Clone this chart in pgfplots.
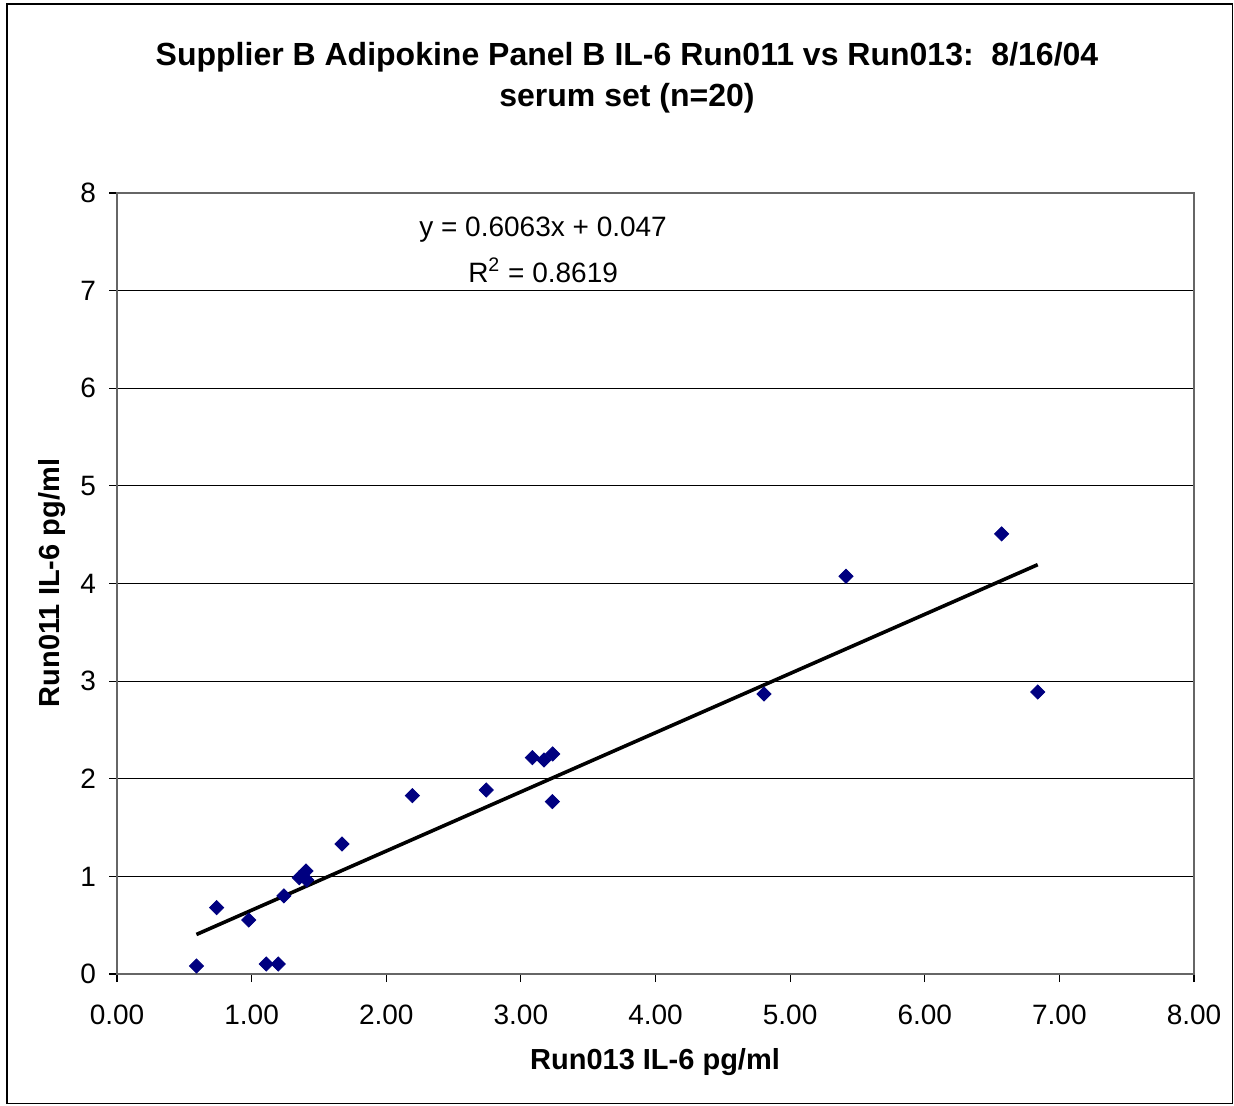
\documentclass[border=0pt]{standalone}
\usepackage{pgfplots}
\pgfplotsset{compat=1.18}
\usepackage{fontspec}
\setmainfont{Liberation Sans}
\definecolor{navy}{RGB}{0,0,128}
\begin{document}
\begin{tikzpicture}
\useasboundingbox (0,0) rectangle (617pt,552.5pt);
\draw[black, line width=0.6pt] (3.5pt,0.6pt) rectangle (616.4pt,550.5pt);
\begin{axis}[
  at={(58.5pt,65.5pt)}, anchor=south west,
  scale only axis, width=538.5pt, height=390.5pt,
  xmin=0, xmax=8, ymin=0, ymax=8,
  xtick={0,1,...,8}, ytick={0,1,...,8},
  xtick pos=bottom, ytick pos=left,
  ymajorgrids, grid style={black, line width=0.5pt},
  axis line style={draw=gray!80!black, line width=0.7pt},
  tick align=outside, major tick length=4pt,
  tick style={black, line width=0.6pt},
  /pgf/number format/assume math mode=true,
  ticklabel style={font=\fontsize{14}{16}\selectfont},
  xticklabel style={/pgf/number format/.cd, fixed, fixed zerofill, precision=2, /tikz/.cd, yshift=-8pt},
  yticklabel style={/pgf/number format/.cd, fixed, precision=0, /tikz/.cd, xshift=-3pt},
  clip=false,
]
\addplot[only marks, mark=square*, mark size=2.5pt, mark options={rotate=45, fill=navy, draw=navy}]
coordinates {
(0.59,0.082) (0.74,0.68) (0.978,0.553) (1.109,0.102) (1.198,0.102)
(1.24,0.80) (1.354,0.987) (1.404,1.055) (1.409,0.963) (1.671,1.332)
(2.194,1.827) (2.743,1.885) (3.085,2.216) (3.172,2.193) (3.236,2.254)
(3.234,1.766) (4.806,2.869) (5.415,4.075) (6.571,4.508) (6.839,2.889)
};
\addplot[black, line width=1.8pt] coordinates {(0.59,0.405) (6.839,4.193)};
\node[font=\fontsize{14}{16}\selectfont] at (axis cs:3.165,7.63) {y = 0.6063x + 0.047};
\node[font=\fontsize{14}{16}\selectfont] at (axis cs:3.165,7.21) {R$^{\mathrm{2}}$ = 0.8619};
\end{axis}
\node[font=\bfseries\fontsize{16}{19}\selectfont] at (313.5pt,524pt) {Supplier B Adipokine Panel B IL-6 Run011 vs Run013:\ \ 8/16/04};
\node[font=\bfseries\fontsize{16}{19}\selectfont] at (313.5pt,503.5pt) {serum set (n=20)};
\node[font=\bfseries\fontsize{14.5}{17}\selectfont] at (327.5pt,21.5pt) {Run013 IL-6 pg/ml};
\node[font=\bfseries\fontsize{14.5}{17}\selectfont, rotate=90] at (26pt,261pt) {Run011 IL-6 pg/ml};
\end{tikzpicture}
\end{document}
